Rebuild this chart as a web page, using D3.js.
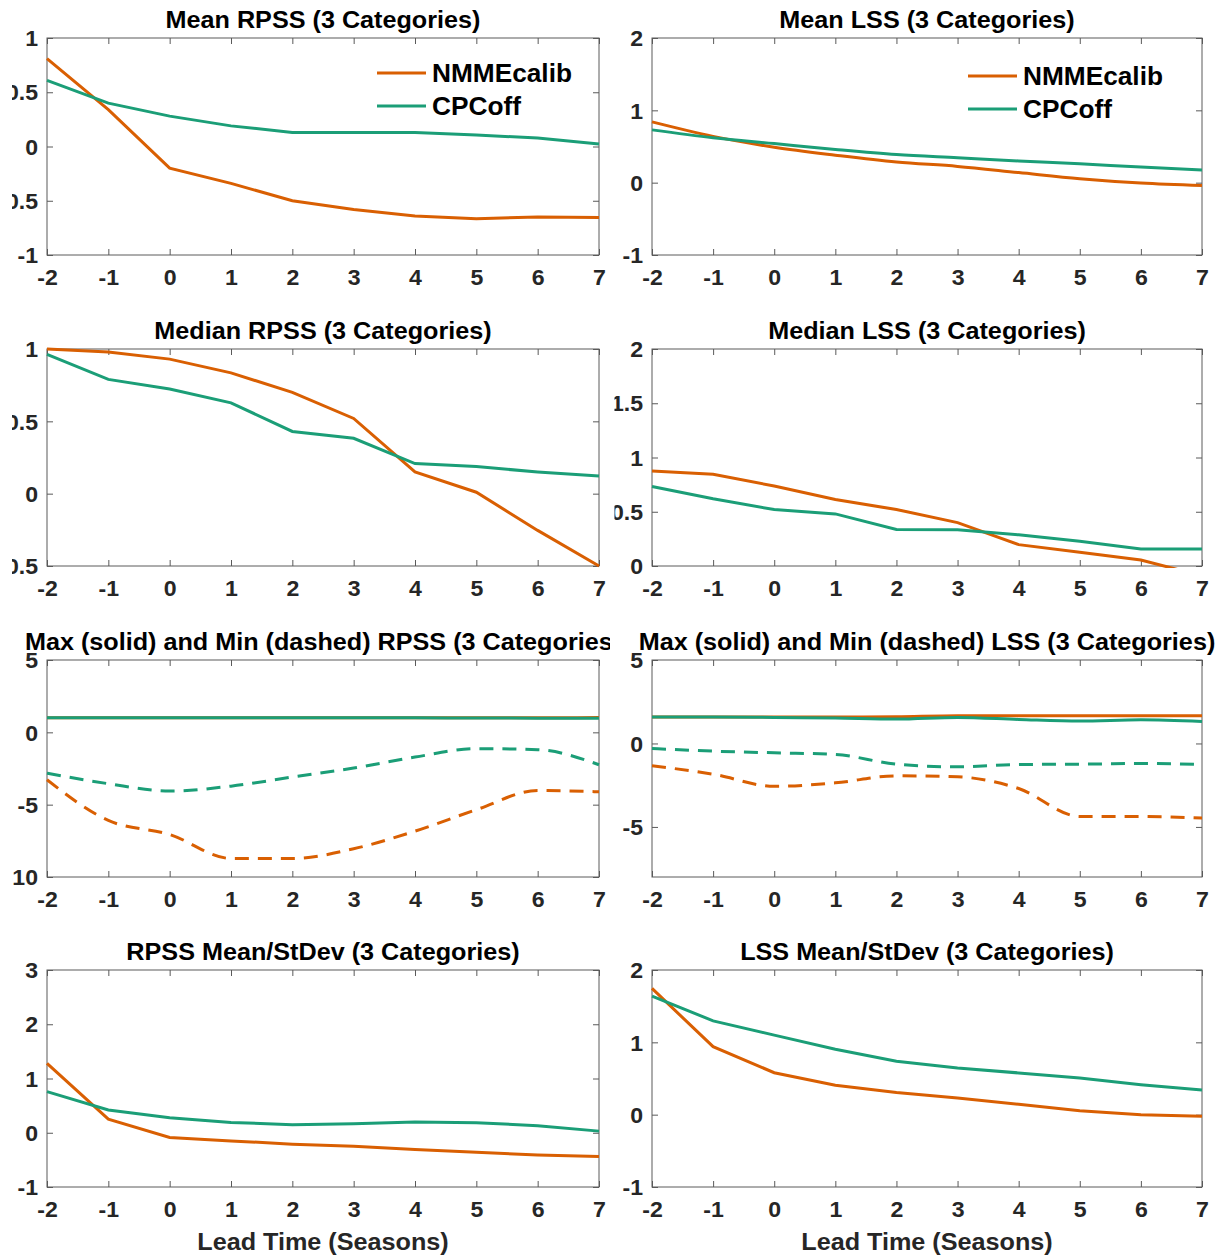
<!DOCTYPE html>
<html>
<head>
<meta charset="utf-8">
<script src="https://cdn.jsdelivr.net/npm/d3@7"></script>
<style>
  body { margin: 0; background: #fff; }
  text { font-family: 'Liberation Sans', Arial, Helvetica, sans-serif; font-weight: bold; }
</style>
</head>
<body>
<svg id="chart"></svg>
<script>
// lead times (seasons) shared by every panel
const leadTimes = [-2, -1, 0, 1, 2, 3, 4, 5, 6, 7]
const seriesNames = ['NMMEcalib', 'CPCoff']

// Mean RPSS
const meanRpssNmme = [0.81, 0.34, -0.2, -0.34, -0.5, -0.58, -0.64, -0.665, -0.65, -0.655]
const meanRpssCpc = [0.61, 0.4, 0.28, 0.19, 0.13, 0.13, 0.13, 0.106, 0.078, 0.023]
// Mean LSS
const meanLssNmme = [0.84, 0.64, 0.49, 0.38, 0.285, 0.225, 0.14, 0.055, -0.005, -0.04]
const meanLssCpc = [0.73, 0.62, 0.54, 0.46, 0.39, 0.345, 0.3, 0.26, 0.215, 0.175]
// Median RPSS
const medRpssNmme = [1.0, 0.98, 0.93, 0.835, 0.7, 0.52, 0.15, 0.01, -0.254, -0.5]
const medRpssCpc = [0.963, 0.79, 0.723, 0.628, 0.43, 0.383, 0.208, 0.187, 0.15, 0.122]
// Median LSS
const medLssNmme = [0.875, 0.845, 0.737, 0.613, 0.52, 0.4, 0.197, 0.126, 0.055, -0.09]
const medLssCpc = [0.733, 0.62, 0.52, 0.48, 0.336, 0.333, 0.287, 0.228, 0.157, 0.157]
// Max / Min RPSS
const maxRpssNmme = [1.0, 1.0, 1.0, 1.0, 1.0, 1.0, 1.0, 1.0, 1.0, 1.02]
const maxRpssCpc = [1.0, 1.0, 1.0, 1.0, 1.0, 1.0, 1.0, 0.99, 0.98, 0.98]
const minRpssNmme = [-3.28, -6.09, -7.06, -8.72, -8.72, -8.05, -6.83, -5.35, -4.02, -4.11]
const minRpssCpc = [-2.82, -3.55, -4.06, -3.72, -3.09, -2.47, -1.71, -1.13, -1.2, -2.24]
// Max / Min LSS
const maxLssNmme = [1.58, 1.58, 1.58, 1.58, 1.6, 1.66, 1.66, 1.66, 1.66, 1.66]
const maxLssCpc = [1.58, 1.58, 1.56, 1.52, 1.46, 1.56, 1.44, 1.34, 1.42, 1.32]
const minLssNmme = [-1.34, -1.84, -2.57, -2.36, -1.94, -2.0, -2.7, -4.37, -4.37, -4.47]
const minLssCpc = [-0.3, -0.46, -0.56, -0.66, -1.24, -1.4, -1.26, -1.24, -1.2, -1.26]
// Mean / StDev
const ratioRpssNmme = [1.28, 0.25, -0.086, -0.15, -0.21, -0.25, -0.31, -0.36, -0.41, -0.44]
const ratioRpssCpc = [0.757, 0.42, 0.277, 0.19, 0.148, 0.166, 0.2, 0.185, 0.13, 0.03]
const ratioLssNmme = [1.745, 0.94, 0.58, 0.406, 0.305, 0.23, 0.143, 0.055, 0.0, -0.023]
const ratioLssCpc = [1.64, 1.297, 1.1, 0.905, 0.738, 0.646, 0.577, 0.508, 0.415, 0.34]

// y tick labels per panel
const ticksMeanRpss = [-1, -0.5, 0, 0.5, 1]
const ticksMeanLss = [-1, 0, 1, 2]
const ticksMedRpss = [-0.5, 0, 0.5, 1]
const ticksMedLss = [0, 0.5, 1, 1.5, 2]
const ticksMaxMinRpss = [-10, -5, 0, 5]
const ticksMaxMinLss = [-5, 0, 5]
const ticksRatioRpss = [-1, 0, 1, 2, 3]
const ticksRatioLss = [-1, 0, 1, 2]

const orange = '#d95f02'
const green = '#1b9e77'
const sx = 1.05 // glyphs in the source are a touch wider than Liberation

const width = 1224, height = 1256
const colLeft = [47, 652], colWidth = [552, 550]
const rowTop = [38, 349, 660, 970], boxHeight = 217
const colClip = [[12, 610], [614.5, 1224]]

const panels = [
  { col: 0, row: 0, title: 'Mean RPSS (3 Categories)', yDomain: [-1, 1], yTicks: ticksMeanRpss,
    legend: [330, 35],
    series: [{ v: meanRpssNmme, c: orange }, { v: meanRpssCpc, c: green }] },
  { col: 1, row: 0, title: 'Mean LSS (3 Categories)', yDomain: [-1, 2], yTicks: ticksMeanLss,
    legend: [316, 38], smooth: true,
    series: [{ v: meanLssNmme, c: orange }, { v: meanLssCpc, c: green }] },
  { col: 0, row: 1, title: 'Median RPSS (3 Categories)', yDomain: [-0.5, 1], yTicks: ticksMedRpss,
    series: [{ v: medRpssNmme, c: orange }, { v: medRpssCpc, c: green }] },
  { col: 1, row: 1, title: 'Median LSS (3 Categories)', yDomain: [0, 2], yTicks: ticksMedLss,
    series: [{ v: medLssNmme, c: orange }, { v: medLssCpc, c: green }] },
  { col: 0, row: 2, title: 'Max (solid) and Min (dashed) RPSS (3 Categories)', yDomain: [-10, 5],
    yTicks: ticksMaxMinRpss, smooth: true,
    series: [{ v: maxRpssNmme, c: orange }, { v: maxRpssCpc, c: green },
      { v: minRpssNmme, c: orange, dash: true }, { v: minRpssCpc, c: green, dash: true }] },
  { col: 1, row: 2, title: 'Max (solid) and Min (dashed) LSS (3 Categories)', yDomain: [-8, 5],
    yTicks: ticksMaxMinLss, smooth: true,
    series: [{ v: maxLssNmme, c: orange }, { v: maxLssCpc, c: green },
      { v: minLssNmme, c: orange, dash: true }, { v: minLssCpc, c: green, dash: true }] },
  { col: 0, row: 3, title: 'RPSS Mean/StDev (3 Categories)', yDomain: [-1, 3], yTicks: ticksRatioRpss,
    xLabel: 'Lead Time (Seasons)',
    series: [{ v: ratioRpssNmme, c: orange }, { v: ratioRpssCpc, c: green }] },
  { col: 1, row: 3, title: 'LSS Mean/StDev (3 Categories)', yDomain: [-1, 2], yTicks: ticksRatioLss,
    xLabel: 'Lead Time (Seasons)',
    series: [{ v: ratioLssNmme, c: orange }, { v: ratioLssCpc, c: green }] },
]

let svg = d3.select('#chart').attr('width', width).attr('height', height)
let defs = svg.append('defs')

colClip.forEach(function(c, i) {
  defs.append('clipPath').attr('id', 'col' + i)
    .append('rect').attr('x', c[0]).attr('y', 0).attr('width', c[1] - c[0]).attr('height', height)
})

let cols = [0, 1].map(i => svg.append('g').attr('clip-path', 'url(#col' + i + ')'))

panels.forEach(function(p, pi) {
  let g = cols[p.col].append('g').classed('panel', true)
  let left = colLeft[p.col], w = colWidth[p.col]
  let top = rowTop[p.row], bottom = top + boxHeight

  let x = d3.scaleLinear().domain([-2, 7]).range([left, left + w])
  let y = d3.scaleLinear().domain(p.yDomain).range([bottom, top])

  // box
  g.append('rect')
    .attr('x', left).attr('y', top).attr('width', w).attr('height', boxHeight)
    .attr('fill', 'none').attr('stroke', '#5a5a5a').attr('stroke-width', 1)

  // axes, ticks pointing in on all four sides
  let axB = g.append('g').attr('transform', 'translate(0,' + bottom + ')')
    .call(d3.axisBottom(x).tickValues(leadTimes).tickSizeInner(-6).tickSizeOuter(0).tickFormat(d => String(d)))
  let axL = g.append('g').attr('transform', 'translate(' + left + ',0)')
    .call(d3.axisLeft(y).tickValues(p.yTicks).tickSizeInner(-6).tickSizeOuter(0).tickFormat(d => String(d)))
  let axT = g.append('g').attr('transform', 'translate(0,' + top + ')')
    .call(d3.axisTop(x).tickValues(leadTimes).tickSizeInner(-6).tickSizeOuter(0).tickFormat(''))
  let axR = g.append('g').attr('transform', 'translate(' + (left + w) + ',0)')
    .call(d3.axisRight(y).tickValues(p.yTicks).tickSizeInner(-6).tickSizeOuter(0).tickFormat(''))

  ;[axB, axL, axT, axR].forEach(function(a) {
    a.attr('color', '#5a5a5a').attr('font-size', 22)
    a.select('.domain').remove()
  })
  axT.selectAll('text').remove()
  axR.selectAll('text').remove()
  axB.selectAll('text')
    .attr('y', 30).attr('dy', null)
    .attr('fill', '#262626')
    .attr('transform', 'scale(' + sx + ',1)')
  axL.selectAll('text')
    .attr('x', -9 / sx).attr('dy', '0.35em')
    .attr('fill', '#262626')
    .attr('transform', 'scale(' + sx + ',1)')

  // data lines clipped to the axes area
  defs.append('clipPath').attr('id', 'plot' + pi)
    .append('rect').attr('x', left - 2).attr('y', top - 2).attr('width', w + 4).attr('height', boxHeight + 4)

  let line = d3.line()
    .x((d, i) => x(leadTimes[i]))
    .y(d => y(d))
    .curve(p.smooth ? d3.curveMonotoneX : d3.curveLinear)

  g.append('g').attr('clip-path', 'url(#plot' + pi + ')')
    .selectAll('path.series')
    .data(p.series)
    .enter()
    .append('path')
    .classed('series', true)
    .attr('d', d => line(d.v))
    .attr('fill', 'none')
    .attr('stroke', d => d.c)
    .attr('stroke-width', 3)
    .attr('stroke-dasharray', d => (d.dash ? '14,9' : null))

  // title
  g.append('text')
    .attr('transform', 'translate(' + (left + w / 2) + ',' + (top - 10) + ') scale(' + sx + ',1)')
    .attr('text-anchor', 'middle')
    .attr('font-size', 24)
    .attr('fill', '#000')
    .text(p.title)

  if (p.xLabel) {
    g.append('text')
      .attr('transform', 'translate(' + (left + w / 2) + ',' + (bottom + 63) + ') scale(' + sx + ',1)')
      .attr('text-anchor', 'middle')
      .attr('font-size', 24)
      .attr('fill', '#262626')
      .text(p.xLabel)
  }

  if (p.legend) {
    let lx = left + p.legend[0], ly = top + p.legend[1]
    let entries = g.append('g').classed('legend', true)
      .selectAll('g.legend-entry')
      .data(p.series)
      .enter()
      .append('g')
      .classed('legend-entry', true)
      .attr('transform', (d, i) => 'translate(' + lx + ',' + (ly + i * 33) + ')')
    entries.append('line')
      .attr('x1', 0).attr('x2', 49).attr('y1', 0).attr('y2', 0)
      .attr('stroke', d => d.c).attr('stroke-width', 3)
    entries.append('text')
      .attr('transform', 'translate(55,9) scale(' + sx + ',1)')
      .attr('font-size', 25)
      .attr('fill', '#000')
      .text((d, i) => seriesNames[i])
  }
})
</script>
</body>
</html>
